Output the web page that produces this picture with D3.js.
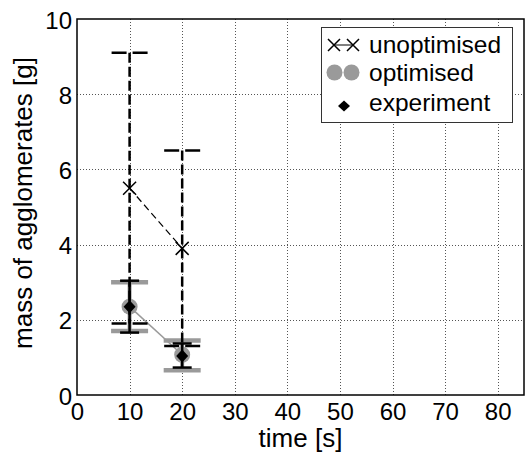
<!DOCTYPE html>
<html>
<head>
<meta charset="utf-8">
<script src="https://cdn.jsdelivr.net/npm/d3@7"></script>
<style>
  body { margin: 0; background: #fff; }
  svg { display: block; }
  text { font-family: "Liberation Sans", Arial, Helvetica, sans-serif; fill: #000; }
</style>
</head>
<body>
<svg id="chart" width="526" height="459"></svg>
<script>
// Sampling times [s]
const times = [10, 20];

// Unoptimised model: mean and error range
const unoptMean = [5.5, 3.9];
const unoptLow  = [1.9, 1.3];
const unoptHigh = [9.1, 6.5];

// Optimised model: mean and error range
const optMean = [2.35, 1.07];
const optLow  = [1.7, 0.66];
const optHigh = [3.0, 1.45];

// Experimental measurements: mean and error range
const expMean = [2.35, 1.04];
const expLow  = [1.66, 0.73];
const expHigh = [3.04, 1.37];

const xTickValues = [0, 10, 20, 30, 40, 50, 60, 70, 80];
const yTickValues = [0, 2, 4, 6, 8, 10];
const legendLabels = ["unoptimised", "optimised", "experiment"];

const W = 526, H = 459;
const margin = { top: 19, right: 2, bottom: 64, left: 77 };
const grey = "#9a9a9a";
const fontFam = "'Liberation Sans', Arial, sans-serif";

const svg = d3.select("#chart");
const x = d3.scaleLinear().domain([0, 85]).range([margin.left, W - margin.right]);
const y = d3.scaleLinear().domain([0, 10]).range([H - margin.bottom, margin.top]);

// dotted grid
const grid = svg.append("g").attr("stroke", "#555").attr("stroke-width", 1).attr("stroke-dasharray", "1,2");
grid.selectAll("line.v").data(xTickValues.filter(d => d > 0)).join("line")
  .attr("x1", d => Math.round(x(d)) + 0.5).attr("x2", d => Math.round(x(d)) + 0.5)
  .attr("y1", y(10)).attr("y2", y(0));
grid.selectAll("line.h").data(yTickValues.filter(d => d > 0 && d < 10)).join("line")
  .attr("y1", d => Math.round(y(d)) + 0.5).attr("y2", d => Math.round(y(d)) + 0.5)
  .attr("x1", x(0)).attr("x2", x(85));

// axes with labels only
const xAxis = d3.axisBottom(x).tickValues(xTickValues).tickSize(0).tickPadding(8).tickFormat(d3.format("d"));
const yAxis = d3.axisLeft(y).tickValues(yTickValues).tickSize(0).tickPadding(5).tickFormat(d3.format("d"));
const gx = svg.append("g").attr("transform", `translate(0,${y(0)})`).call(xAxis);
const gy = svg.append("g").attr("transform", `translate(${x(0)},0)`).call(yAxis);
[gx, gy].forEach(g => {
  g.attr("font-size", null).attr("font-family", null);
  g.select(".domain").remove();
  g.selectAll("text").attr("font-size", 24).attr("font-family", fontFam).attr("fill", "#000");
});
gy.selectAll("text").attr("dy", "0.38em");

// axis titles
svg.append("text").attr("x", (x(0) + x(85)) / 2).attr("y", 447)
  .attr("text-anchor", "middle").attr("font-size", 26).attr("font-family", fontFam).text("time [s]");
svg.append("text").attr("transform", `translate(32,${(y(0) + y(10)) / 2 - 4}) rotate(-90)`)
  .attr("text-anchor", "middle").attr("font-size", 26).attr("font-family", fontFam).text("mass of agglomerates [g]");

const idx = d3.range(times.length);

// optimised model (grey)
const opt = svg.append("g");
opt.append("path")
  .attr("d", d3.line().x(i => x(times[i])).y(i => y(optMean[i]))(idx))
  .attr("fill", "none").attr("stroke", grey).attr("stroke-width", 1.5);
opt.selectAll("line.bar").data(idx).join("line")
  .attr("x1", i => x(times[i])).attr("x2", i => x(times[i]))
  .attr("y1", i => y(optLow[i])).attr("y2", i => y(optHigh[i]))
  .attr("stroke", grey).attr("stroke-width", 4);
idx.forEach(i => {
  [optLow[i], optHigh[i]].forEach(v => {
    opt.append("line")
      .attr("x1", x(times[i]) - 18.5).attr("x2", x(times[i]) + 18.5)
      .attr("y1", y(v)).attr("y2", y(v))
      .attr("stroke", grey).attr("stroke-width", 4.5);
  });
});
opt.selectAll("circle").data(idx).join("circle")
  .attr("cx", i => x(times[i])).attr("cy", i => y(optMean[i])).attr("r", 8)
  .attr("fill", grey);

// unoptimised model (black dashed)
const un = svg.append("g");
un.append("path")
  .attr("d", d3.line().x(i => x(times[i])).y(i => y(unoptMean[i]))(idx))
  .attr("fill", "none").attr("stroke", "#000").attr("stroke-width", 1.2)
  .attr("stroke-dasharray", "7,4");
un.selectAll("line.bar").data(idx).join("line")
  .attr("x1", i => x(times[i])).attr("x2", i => x(times[i]))
  .attr("y1", i => y(unoptHigh[i])).attr("y2", i => y(unoptLow[i]))
  .attr("stroke", "#000").attr("stroke-width", 2.5).attr("stroke-dasharray", "10,4");
idx.forEach(i => {
  [unoptLow[i], unoptHigh[i]].forEach(v => {
    un.append("line")
      .attr("x1", x(times[i]) - 18).attr("x2", x(times[i]) + 18)
      .attr("y1", y(v)).attr("y2", y(v))
      .attr("stroke", "#000").attr("stroke-width", 2.5).attr("stroke-dasharray", "15,6");
  });
});
const cross = (cx, cy, s) => `M${cx - s},${cy - s}L${cx + s},${cy + s}M${cx - s},${cy + s}L${cx + s},${cy - s}`;
un.selectAll("path.mk").data(idx).join("path")
  .attr("d", i => cross(x(times[i]), y(unoptMean[i]), 6.5))
  .attr("stroke", "#000").attr("stroke-width", 1.5).attr("fill", "none");

// experiment (black solid)
const ex = svg.append("g");
ex.selectAll("line.bar").data(idx).join("line")
  .attr("x1", i => x(times[i])).attr("x2", i => x(times[i]))
  .attr("y1", i => y(expLow[i])).attr("y2", i => y(expHigh[i]))
  .attr("stroke", "#000").attr("stroke-width", 2.5);
idx.forEach(i => {
  [expLow[i], expHigh[i]].forEach(v => {
    ex.append("line")
      .attr("x1", x(times[i]) - 9.5).attr("x2", x(times[i]) + 9.5)
      .attr("y1", y(v)).attr("y2", y(v))
      .attr("stroke", "#000").attr("stroke-width", 2.5);
  });
});
const diamond = (cx, cy, sx, sy) => `M${cx},${cy - sy}L${cx + sx},${cy}L${cx},${cy + sy}L${cx - sx},${cy}Z`;
ex.selectAll("path.mk").data(idx).join("path")
  .attr("d", i => diamond(x(times[i]), y(expMean[i]), 6, 6.5))
  .attr("fill", "#000");

// plot frame
svg.append("rect")
  .attr("x", x(0)).attr("y", y(10))
  .attr("width", x(85) - x(0)).attr("height", y(0) - y(10))
  .attr("fill", "none").attr("stroke", "#000").attr("stroke-width", 1.5);

// legend
const lg = svg.append("g");
lg.append("rect").attr("x", 321.5).attr("y", 27.5).attr("width", 191).attr("height", 95)
  .attr("fill", "#fff").attr("stroke", "#333").attr("stroke-width", 1);
const rows = [45, 72.5, 106];
const baselines = [52.5, 80.5, 111];
const textX = 369;
legendLabels.forEach((lab, k) => {
  lg.append("text").attr("x", textX).attr("y", baselines[k])
    .attr("font-size", 24.5).attr("font-family", fontFam).text(lab);
});
// unoptimised sample
lg.append("line").attr("x1", 334).attr("x2", 353).attr("y1", rows[0]).attr("y2", rows[0])
  .attr("stroke", "#000").attr("stroke-width", 1);
[334, 353].forEach(cx => lg.append("path").attr("d", cross(cx, rows[0], 6))
  .attr("stroke", "#000").attr("stroke-width", 1.5).attr("fill", "none"));
// optimised sample
[334.5, 351.5].forEach(cx => lg.append("circle").attr("cx", cx).attr("cy", rows[1]).attr("r", 8).attr("fill", grey));
// experiment sample
lg.append("path").attr("d", diamond(344, rows[2], 6, 5.5)).attr("fill", "#000");
</script>
</body>
</html>
